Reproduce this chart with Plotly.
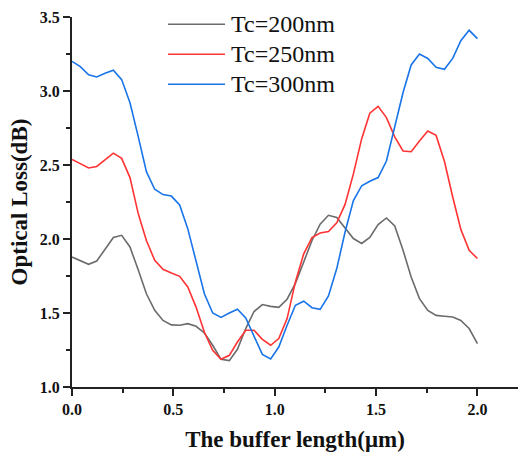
import plotly.graph_objects as go

buffer_len = [0.000, 0.041, 0.082, 0.122, 0.163, 0.204, 0.245, 0.286, 0.327, 0.367,
              0.408, 0.449, 0.490, 0.531, 0.571, 0.612, 0.653, 0.694, 0.735, 0.776,
              0.816, 0.857, 0.898, 0.939, 0.980, 1.020, 1.061, 1.102, 1.143, 1.184,
              1.224, 1.265, 1.306, 1.347, 1.388, 1.429, 1.469, 1.510, 1.551, 1.592,
              1.633, 1.673, 1.714, 1.755, 1.796, 1.837, 1.878, 1.918, 1.959, 2.000]

loss_200 = [1.878, 1.851, 1.829, 1.851, 1.935, 2.010, 2.025, 1.946, 1.790, 1.630,
            1.518, 1.450, 1.420, 1.417, 1.428, 1.410, 1.365, 1.282, 1.187, 1.178,
            1.255, 1.395, 1.510, 1.557, 1.545, 1.538, 1.593, 1.700, 1.845, 1.990,
            2.100, 2.160, 2.145, 2.077, 2.003, 1.970, 2.010, 2.097, 2.142, 2.088,
            1.924, 1.743, 1.597, 1.518, 1.484, 1.478, 1.473, 1.450, 1.395, 1.293]

loss_250 = [2.538, 2.510, 2.480, 2.490, 2.536, 2.580, 2.545, 2.415, 2.170, 1.990,
            1.856, 1.795, 1.770, 1.748, 1.676, 1.540, 1.370, 1.248, 1.187, 1.214,
            1.304, 1.383, 1.383, 1.322, 1.282, 1.327, 1.462, 1.710, 1.900, 2.010,
            2.040, 2.050, 2.110, 2.234, 2.440, 2.678, 2.850, 2.896, 2.820, 2.690,
            2.595, 2.590, 2.662, 2.730, 2.700, 2.525, 2.284, 2.065, 1.924, 1.868]

loss_300 = [3.200, 3.165, 3.110, 3.095, 3.120, 3.140, 3.077, 2.920, 2.690, 2.455,
            2.336, 2.300, 2.290, 2.230, 2.070, 1.845, 1.630, 1.500, 1.470, 1.500,
            1.525, 1.466, 1.338, 1.220, 1.190, 1.270, 1.417, 1.552, 1.580, 1.536,
            1.525, 1.615, 1.800, 2.047, 2.260, 2.360, 2.390, 2.415, 2.527, 2.750,
            2.990, 3.176, 3.250, 3.220, 3.160, 3.147, 3.220, 3.340, 3.410, 3.354]

series_names = ["Tc=200nm", "Tc=250nm", "Tc=300nm"]
series_values = [loss_200, loss_250, loss_300]
series_colors = ["#6b6b6b", "#ff3333", "#1874e8"]

FONT = "Liberation Serif"

fig = go.Figure()
for name, vals, col in zip(series_names, series_values, series_colors):
    fig.add_trace(go.Scatter(x=buffer_len, y=vals, mode="lines", name=name,
                             line=dict(color=col, width=1.6), showlegend=False))

# Legend drawn as keys + labels (Origin-style long line keys)
W, H, L, T = 520, 455, 72, 16.7
PW, PH = W - L - 2, 370.0
leg_x0, leg_x1, leg_tx = 168, 225, 229
leg_rows = [24, 54, 84]
for name, col, ry in zip(series_names, series_colors, leg_rows):
    yp = (T + PH - ry) / PH
    fig.add_shape(type="line", xref="paper", yref="paper",
                  x0=(leg_x0 - L) / PW, x1=(leg_x1 - L) / PW, y0=yp, y1=yp,
                  line=dict(color=col, width=1.6))
    fig.add_annotation(xref="paper", yref="paper", x=(leg_tx - L) / PW, y=yp,
                       xanchor="left", yanchor="middle", showarrow=False, text=name,
                       font=dict(family=FONT, size=24, color="#111111"))

axis_common = dict(
    showgrid=False, zeroline=False, showline=True, linecolor="#222222", linewidth=2,
    ticks="outside", ticklen=7, tickwidth=2, tickcolor="#222222",
    tickfont=dict(family=FONT, size=16, color="#111111"),
    minor=dict(ticks="outside", ticklen=4, tickwidth=2, tickcolor="#222222", dtick=0.25),
    mirror=False,
)

fig.update_xaxes(range=[0, 2.2], dtick=0.5, tick0=0, tickformat=".1f",
                 tickprefix="<b>", ticksuffix="</b>",
                 title=dict(text="<b>The buffer length(μm)</b>",
                            font=dict(family=FONT, size=23, color="#111111"), standoff=14),
                 **axis_common)
fig.update_yaxes(range=[1.0, 3.5], dtick=0.5, tick0=1.0, tickformat=".1f",
                 tickprefix="<b>", ticksuffix="</b>",
                 title=dict(text="<b>Optical Loss(dB)</b>",
                            font=dict(family=FONT, size=23, color="#111111"), standoff=6),
                 **axis_common)

fig.update_layout(
    width=W, height=H,
    margin=dict(l=72, r=2, t=17, b=68),
    paper_bgcolor="white", plot_bgcolor="white",
    font=dict(family=FONT, color="#111111"),
    showlegend=False,
)

fig.write_html("out.html")
